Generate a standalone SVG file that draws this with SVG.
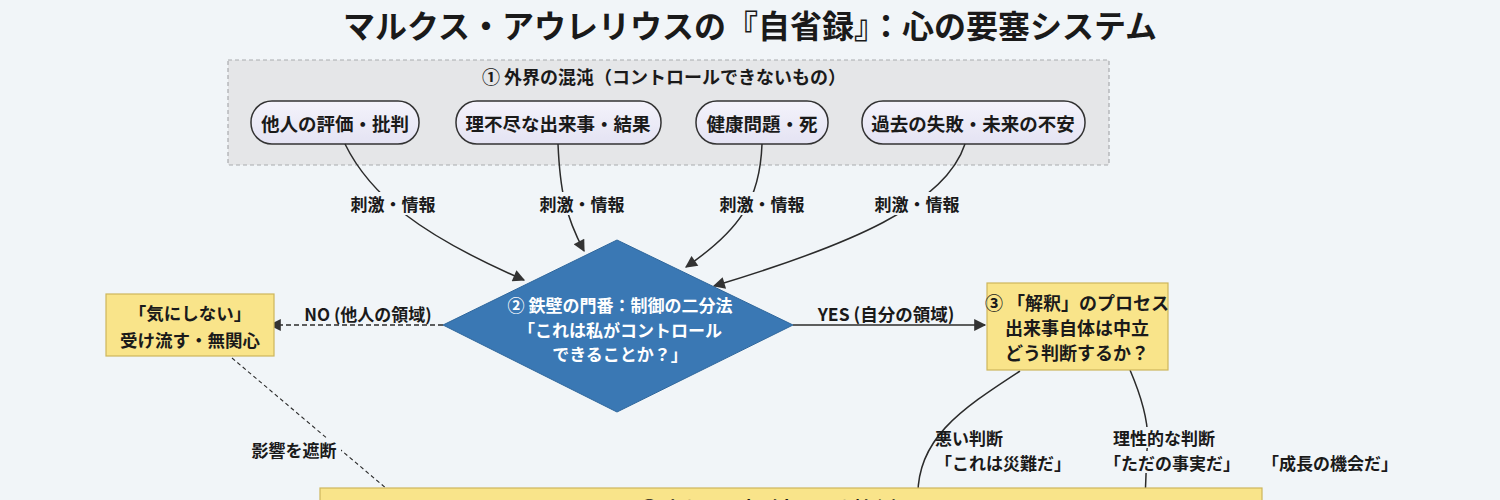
<svg xmlns="http://www.w3.org/2000/svg" width="1500" height="500" viewBox="0 0 1500 500">
<defs>
<style>
text{font-family:"Noto Sans CJK JP","Noto Sans",sans-serif;font-weight:bold;fill:#1a1a1a;text-anchor:middle;dominant-baseline:central}
.pill{fill:url(#pg);stroke:#333;stroke-width:1.5}
.pt{font-size:18.5px}
.lbl{font-size:17px}
.bg{fill:#f1f5f8}
.yb{fill:#f9e48a;stroke:#cdb65c;stroke-width:1.2}
.yt{font-size:17.5px}
.con{fill:none;stroke:#2b2b2b;stroke-width:1.5}
.dash{stroke-dasharray:5,3}
.wt{fill:#fff;font-size:17px}
</style>
<linearGradient id="pg" x1="0" y1="0" x2="0" y2="1">
<stop offset="0" stop-color="#f4f3fb"/><stop offset="1" stop-color="#e4e3f3"/>
</linearGradient>
<marker id="ah" viewBox="0 0 10 10" refX="9" refY="5" markerUnits="userSpaceOnUse" markerWidth="14" markerHeight="12" orient="auto">
<path d="M0,0 L10,5 L0,10 z" fill="#333"/>
</marker>
</defs>
<rect width="1500" height="500" fill="#f1f5f8"/>
<text x="750" y="24" style="font-size:32px">マルクス・アウレリウスの『自省録』：心の要塞システム</text>

<g id="outer-world">
<rect x="228" y="60" width="881" height="105" fill="#e5e6e8" stroke="#a9abae" stroke-width="1.2" stroke-dasharray="4,3"/>
<text x="664" y="76" style="font-size:18px">① 外界の混沌（コントロールできないもの）</text>
</g>
<g id="n-hyouka"><rect class="pill" x="251" y="101" width="168" height="43" rx="21"/><text class="pt" x="335" y="123">他人の評価・批判</text></g>
<g id="n-rifujin"><rect class="pill" x="456" y="101" width="205" height="43" rx="21"/><text class="pt" x="558" y="123">理不尽な出来事・結果</text></g>
<g id="n-kenkou"><rect class="pill" x="696" y="101" width="132" height="43" rx="21"/><text class="pt" x="762" y="123">健康問題・死</text></g>
<g id="n-kako"><rect class="pill" x="862" y="101" width="223" height="43" rx="21"/><text class="pt" x="973" y="123">過去の失敗・未来の不安</text></g>

<g id="connectors">
<path class="con" d="M345,144 C370,195 420,235 524,280" marker-end="url(#ah)"/>
<path class="con" d="M558,144 C560,190 565,215 584,251" marker-end="url(#ah)"/>
<path class="con" d="M762,144 C760,200 740,230 686,267" marker-end="url(#ah)"/>
<path class="con" d="M965,144 C945,205 850,245 714,286" marker-end="url(#ah)"/>
<path class="con dash" d="M443,325 L270,325" marker-end="url(#ah)"/>
<path class="con" d="M793,325 L985,325" marker-end="url(#ah)"/>
<path class="con dash" style="stroke-width:1.1;stroke-dasharray:4,3" d="M232,358 L400,500"/>
<path class="con" d="M1020,371 C960,410 915,440 918,500"/>
<path class="con" d="M1130,370 C1145,405 1150,430 1147,450 L1145,500"/>
<rect class="bg" x="344" y="192" width="98" height="23"/><text class="lbl" x="393" y="203">刺激・情報</text>
<rect class="bg" x="533" y="192" width="98" height="23"/><text class="lbl" x="582" y="203">刺激・情報</text>
<rect class="bg" x="713" y="192" width="98" height="23"/><text class="lbl" x="762" y="203">刺激・情報</text>
<rect class="bg" x="868" y="192" width="98" height="23"/><text class="lbl" x="917" y="203">刺激・情報</text>
<text x="368" y="313" style="font-size:17px">NO (他人の領域)</text>
<text x="886" y="313" style="font-size:17.5px">YES (自分の領域)</text>
<rect class="bg" x="245" y="438" width="96" height="22"/><text class="lbl" x="294" y="449">影響を遮断</text>
<text class="lbl" x="969" y="437">悪い判断</text>
<text class="lbl" x="1003" y="462">「これは災難だ」</text>
<rect class="bg" x="1108" y="427" width="112" height="21"/><text class="lbl" x="1164" y="437">理性的な判断</text>
<rect class="bg" x="1090" y="451" width="168" height="22"/><text class="lbl" x="1172" y="462">「ただの事実だ」</text>
<text class="lbl" x="1330" y="462">「成長の機会だ」</text>
</g>

<g id="n-gate">
<polygon points="617,240 793,325 617,412 443,325" fill="#3a78b4" stroke="#2f679c" stroke-width="1"/>
<text class="wt" x="620" y="304">② 鉄壁の門番：制御の二分法</text>
<text class="wt" x="620" y="329">「これは私がコントロール</text>
<text class="wt" x="620" y="353">できることか？」</text>
</g>
<g id="n-kinishinai">
<rect class="yb" x="106" y="294" width="168" height="62"/>
<text class="yt" x="190" y="312">「気にしない」</text>
<text class="yt" x="190" y="339">受け流す・無関心</text>
</g>
<g id="n-kaishaku">
<rect class="yb" x="987" y="283" width="181" height="87"/>
<text x="1077" y="302" style="font-size:18px">③ 「解釈」のプロセス</text>
<text x="1077" y="327" style="font-size:18px">出来事自体は中立</text>
<text x="1077" y="352" style="font-size:18px">どう判断するか？</text>
</g>
<g id="n-yousai">
<rect class="yb" x="320" y="488" width="942" height="40"/>
<text x="775" y="507" style="font-size:19px">④ 内なる要塞（守るべき核心）</text>
</g>
</svg>
